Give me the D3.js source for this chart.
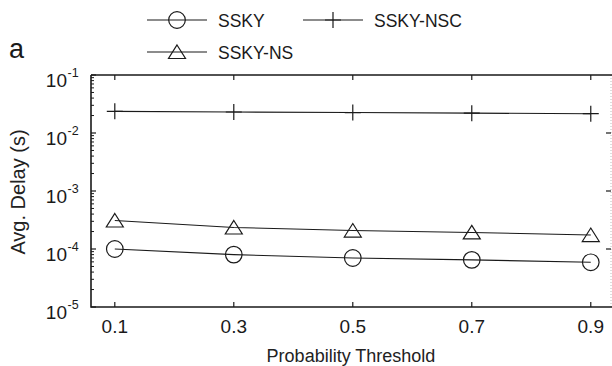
<!DOCTYPE html>
<html><head><meta charset="utf-8">
<script src="https://cdn.jsdelivr.net/npm/d3@7"></script>
<style>body{margin:0;background:#fff}svg{display:block;font-family:"Liberation Sans",Arial,sans-serif}</style>
</head><body><svg id="c" width="612" height="366"></svg>
<script>
const thresholds = [0.1, 0.3, 0.5, 0.7, 0.9];
const xTickLabels = ["0.1", "0.3", "0.5", "0.7", "0.9"];
const yTickExps = [-1, -2, -3, -4, -5];
const ssky = [1.0e-4, 8.0e-5, 7.0e-5, 6.5e-5, 5.9e-5];
const sskyNS = [3.1e-4, 2.35e-4, 2.08e-4, 1.93e-4, 1.74e-4];
const sskyNSC = [2.36e-2, 2.3e-2, 2.25e-2, 2.2e-2, 2.15e-2];
const seriesNames = ["SSKY", "SSKY-NSC", "SSKY-NS"];

const svg = d3.select("#c");
const L = 91, R = 611, T = 75, B = 307;
const x = d3.scaleLinear().domain([0.06, 0.934]).range([L, R]);
const y = d3.scaleLog().domain([1e-5, 1e-1]).range([B, T]);
const ink = "#1a1a1a";

// right faint border
svg.append("line").attr("x1", R).attr("x2", R).attr("y1", T).attr("y2", B)
  .attr("stroke", "#bbb").attr("stroke-width", 1).attr("stroke-dasharray", "1,2");

// minor ticks left
const minors = [];
for (let e = -5; e < -1; e++) for (let m = 2; m <= 9; m++) minors.push(m * Math.pow(10, e));
svg.append("g").selectAll("line").data(minors).join("line")
  .attr("x1", L).attr("x2", L + 3).attr("y1", d => y(d)).attr("y2", d => y(d))
  .attr("stroke", ink).attr("stroke-width", 1);
// major ticks left & right
const majors = yTickExps.map(e => Math.pow(10, e));
svg.append("g").selectAll("line").data(majors).join("line")
  .attr("x1", L).attr("x2", L + 5).attr("y1", d => y(d)).attr("y2", d => y(d))
  .attr("stroke", ink).attr("stroke-width", 1.2);
svg.append("g").selectAll("line").data(majors.slice(1, 4)).join("line")
  .attr("x1", R - 5).attr("x2", R).attr("y1", d => y(d)).attr("y2", d => y(d))
  .attr("stroke", ink).attr("stroke-width", 1.2);
// x ticks bottom & top
svg.append("g").selectAll("line").data(thresholds).join("line")
  .attr("x1", d => x(d)).attr("x2", d => x(d)).attr("y1", B).attr("y2", B - 5)
  .attr("stroke", ink).attr("stroke-width", 1.2);
svg.append("g").selectAll("line").data(thresholds).join("line")
  .attr("x1", d => x(d)).attr("x2", d => x(d)).attr("y1", T).attr("y2", T + 5)
  .attr("stroke", ink).attr("stroke-width", 1.2);

// frame
svg.append("path").attr("d", `M${L},${T}H612M${L},${T}V${B}H612`)
  .attr("fill", "none").attr("stroke", ink).attr("stroke-width", 1.6);

// x tick labels
svg.append("g").selectAll("text").data(thresholds).join("text")
  .attr("x", d => x(d)).attr("y", 332.5).attr("text-anchor", "middle")
  .attr("font-size", 19).attr("fill", ink).text((d, i) => xTickLabels[i]);
// y tick labels
svg.append("g").selectAll("text").data(yTickExps).join("text")
  .attr("x", 67).attr("y", d => y(Math.pow(10, d)) + 11.5).attr("text-anchor", "end")
  .attr("font-size", 19).attr("fill", ink).text("10");
svg.append("g").selectAll("text").data(yTickExps).join("text")
  .attr("x", 67.5).attr("y", d => y(Math.pow(10, d)) + 1.5)
  .attr("font-size", 12.5).attr("fill", ink).text(d => "-" + Math.abs(d));

// axis titles
svg.append("text").attr("x", 351).attr("y", 362).attr("text-anchor", "middle")
  .attr("font-size", 18).attr("fill", "#222").text("Probability Threshold");
svg.append("text").attr("transform", "translate(25,192) rotate(-90)").attr("text-anchor", "middle")
  .attr("font-size", 20).attr("fill", "#222").text("Avg. Delay (s)");
svg.append("text").attr("x", 9).attr("y", 58).attr("font-size", 27).attr("fill", ink).text("a");

// markers
function circle(g) { g.append("circle").attr("r", 8.3).attr("fill", "none").attr("stroke", ink).attr("stroke-width", 1.2); }
function tri(g) { g.append("path").attr("d", "M0,-7L8.5,6.5L-8.5,6.5Z").attr("fill", "none").attr("stroke", ink).attr("stroke-width", 1.2); }
function plus(g) { g.append("path").attr("d", "M-8,0H8M0,-8V8").attr("fill", "none").attr("stroke", ink).attr("stroke-width", 1.2); }

const series = [
  { name: seriesNames[0], vals: ssky, mk: circle },
  { name: seriesNames[1], vals: sskyNSC, mk: plus },
  { name: seriesNames[2], vals: sskyNS, mk: tri }
];
const line = d3.line().x(d => x(d[0])).y(d => y(d[1]));
series.forEach(s => {
  const pts = thresholds.map((t, i) => [t, s.vals[i]]);
  svg.append("path").attr("d", line(pts)).attr("fill", "none").attr("stroke", ink).attr("stroke-width", 1.1);
  svg.append("g").selectAll("g").data(pts).join("g")
    .attr("transform", d => `translate(${x(d[0])},${y(d[1])})`).each(function () { s.mk(d3.select(this)); });
});

// legend
const legPos = [[147, 20], [303, 20], [147, 52]];
series.forEach((s, i) => {
  const [lx, ly] = legPos[i];
  svg.append("line").attr("x1", lx).attr("x2", lx + 60).attr("y1", ly).attr("y2", ly).attr("stroke", ink).attr("stroke-width", 1.1);
  const g = svg.append("g").attr("transform", `translate(${lx + 30},${ly})`);
  s.mk(g);
  svg.append("text").attr("x", lx + 71).attr("y", ly + 6.5).attr("font-size", 17.5).attr("fill", ink).text(s.name);
});
</script></body></html>
